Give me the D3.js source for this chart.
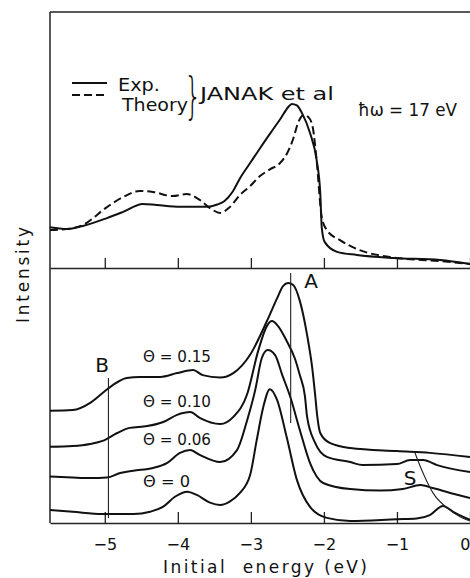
<!DOCTYPE html>
<html><head><meta charset="utf-8">
<script src="https://cdn.jsdelivr.net/npm/d3@7"></script>
<style>
html,body{margin:0;padding:0;background:#fff;}
text{font-family:"DejaVu Sans",sans-serif;fill:#111;}
</style></head>
<body><svg id="c" width="470" height="578"></svg>
<script>
// ---- data (energy in eV, intensity in arbitrary units) ----
const xTicks = [-5, -4, -3, -2, -1, 0];

const topExp = [[-5.75,1.59],[-5.52,1.52],[-5.30,1.64],[-4.97,1.95],[-4.75,2.19],[-4.48,2.50],[-4.29,2.46],
  [-3.97,2.39],[-3.60,2.39],[-3.46,2.48],[-3.36,2.62],[-3.25,2.98],[-3.15,3.50],[-3.01,4.10],[-2.87,4.70],
  [-2.73,5.28],[-2.59,5.85],[-2.49,6.28],[-2.44,6.41],[-2.37,6.35],[-2.30,6.05],[-2.19,5.27],[-2.10,4.22],
  [-2.05,2.93],[-2.03,1.60],[-1.99,1.02],[-1.82,0.63],[-1.55,0.51],[-1.05,0.39],[-0.41,0.31],[0,0.16]];

const topTheory = [[-5.75,1.48],[-5.52,1.52],[-5.30,1.68],[-4.97,2.38],[-4.75,2.77],[-4.52,3.01],[-4.34,2.97],
  [-4.07,2.81],[-3.88,2.89],[-3.70,2.66],[-3.56,2.34],[-3.42,2.15],[-3.30,2.35],[-3.15,2.85],[-3.01,3.20],
  [-2.88,3.58],[-2.74,3.85],[-2.60,4.10],[-2.50,4.50],[-2.42,5.05],[-2.35,5.70],[-2.27,5.98],[-2.20,5.85],
  [-2.15,5.45],[-2.10,4.22],[-2.03,1.99],[-1.96,1.48],[-1.78,1.09],[-1.51,0.70],[-1.10,0.43],[-0.41,0.27],[0,0.16]];

const coverages = ["0.15", "0.10", "0.06", "0"];

const cov015 = [[-5.75,4.40],[-5.44,4.43],[-5.20,4.71],[-5.03,5.10],[-4.89,5.41],[-4.70,5.69],[-4.52,5.73],
  [-4.24,5.73],[-4.01,5.88],[-3.79,6.00],[-3.66,5.80],[-3.42,5.71],[-3.24,5.88],[-3.01,6.60],[-2.78,7.92],
  [-2.64,8.82],[-2.56,9.29],[-2.49,9.41],[-2.42,9.33],[-2.33,8.71],[-2.23,7.37],[-2.16,6.08],[-2.12,5.02],
  [-2.09,4.16],[-2.05,3.53],[-1.92,3.14],[-1.64,2.94],[-1.00,2.82],[-0.55,2.75],[0,2.59]];

const cov010 = [[-5.75,2.99],[-5.44,3.02],[-5.20,3.10],[-5.03,3.22],[-4.83,3.53],[-4.66,3.73],[-4.42,3.80],
  [-4.20,3.96],[-4.01,4.24],[-3.83,4.35],[-3.70,4.12],[-3.42,3.88],[-3.24,4.16],[-3.05,5.06],[-2.90,6.75],
  [-2.78,7.73],[-2.71,7.92],[-2.63,7.73],[-2.51,7.14],[-2.40,6.47],[-2.33,5.80],[-2.26,4.98],[-2.23,4.16],
  [-2.12,3.14],[-1.96,2.59],[-1.64,2.39],[-1.47,2.27],[-1.00,2.31],[-0.82,2.47],[-0.64,2.47],[-0.45,2.27],[0,2.00]];

const cov006 = [[-5.75,1.82],[-5.44,1.78],[-5.20,1.76],[-4.97,1.78],[-4.79,1.96],[-4.61,2.05],[-4.34,2.16],
  [-4.15,2.35],[-3.97,2.75],[-3.83,2.86],[-3.70,2.67],[-3.42,2.39],[-3.19,2.86],[-3.05,4.04],[-2.94,5.22],
  [-2.85,6.47],[-2.77,6.78],[-2.67,6.59],[-2.57,5.80],[-2.46,4.94],[-2.33,3.65],[-2.19,2.35],[-2.01,1.57],
  [-1.64,1.33],[-1.23,1.27],[-0.92,1.33],[-0.68,1.49],[-0.51,1.37],[-0.27,1.18],[0,0.98]];

const cov000 = [[-5.75,0.51],[-5.44,0.44],[-5.03,0.35],[-4.61,0.35],[-4.38,0.44],[-4.20,0.64],[-4.04,1.03],
  [-3.87,1.23],[-3.74,1.10],[-3.56,0.80],[-3.42,0.71],[-3.29,0.84],[-3.15,1.18],[-3.01,1.88],[-2.92,3.25],
  [-2.83,4.55],[-2.74,5.25],[-2.64,4.82],[-2.51,3.37],[-2.37,1.69],[-2.19,0.63],[-1.96,0.20],[-1.64,0.08],
  [-1.00,0.15],[-0.73,0.18],[-0.55,0.31],[-0.37,0.67],[-0.23,0.44],[-0.10,0.25],[0,0.12]];

const sLine = [[-0.753,2.75],[-0.643,1.96],[-0.507,1.18],[-0.315,0.59],[-0.137,0.24],[0,0.08]];
const markA = {E:-2.455, from:3.92, to:9.80};
const markB = {E:-4.95, from:0.20, to:5.69};

// ---- layout ----
const svg = d3.select("#c");
const L = 50, R = 470, T = 12, MID = 268, B = 523;
const x = d3.scaleLinear().domain([-5.75, 0]).range([L, R]);
const yTop = d3.scaleLinear().domain([0, 10]).range([MID, T]);
const yBot = d3.scaleLinear().domain([0, 10]).range([B, MID]);

// frame
svg.append("line").attr("x1",L).attr("x2",R).attr("y1",T).attr("y2",T).attr("stroke","#222").attr("stroke-width",1.5);
svg.append("line").attr("x1",L).attr("x2",L).attr("y1",T).attr("y2",B).attr("stroke","#222").attr("stroke-width",1.5);

// top-panel divider axis (ticks up, no labels)
const gMid = svg.append("g").attr("transform",`translate(0,${MID})`)
  .call(d3.axisBottom(x).tickValues(xTicks).tickSizeInner(-10).tickSizeOuter(0).tickFormat(""));
// bottom axis
const gBot = svg.append("g").attr("transform",`translate(0,${B})`)
  .call(d3.axisBottom(x).tickValues(xTicks).tickSizeInner(-11).tickSizeOuter(0).tickPadding(16)
    .tickFormat(d => d === 0 ? "0" : "\u2212" + Math.abs(d)));
[gMid, gBot].forEach(g => {
  g.select(".domain").attr("stroke","#222").attr("stroke-width",1.5);
  g.selectAll(".tick line").attr("stroke","#222").attr("stroke-width",1.3);
  g.selectAll(".tick text").attr("font-size",16).attr("font-family","DejaVu Sans").attr("fill","#111");
});
gBot.selectAll(".tick text").filter(d => d === 0).attr("text-anchor","end").attr("x",0);

const lineTop = d3.line().x(d => x(d[0])).y(d => yTop(d[1])).curve(d3.curveMonotoneX);
const lineBot = d3.line().x(d => x(d[0])).y(d => yBot(d[1])).curve(d3.curveMonotoneX);

svg.append("path").attr("d", lineTop(topExp)).attr("fill","none").attr("stroke","#111").attr("stroke-width",2);
svg.append("path").attr("d", lineTop(topTheory)).attr("fill","none").attr("stroke","#111").attr("stroke-width",2)
  .attr("stroke-dasharray","8,4");

[cov015, cov010, cov006, cov000].forEach(s => {
  svg.append("path").attr("d", lineBot(s)).attr("fill","none").attr("stroke","#111").attr("stroke-width",2);
});

// marker lines
svg.append("line").attr("x1",x(markA.E)).attr("x2",x(markA.E)).attr("y1",yBot(markA.from)).attr("y2",yBot(markA.to))
  .attr("stroke","#222").attr("stroke-width",1.1);
svg.append("line").attr("x1",x(markB.E)).attr("x2",x(markB.E)).attr("y1",yBot(markB.from)).attr("y2",yBot(markB.to))
  .attr("stroke","#222").attr("stroke-width",1.1);
svg.append("path").attr("d", d3.line().x(d=>x(d[0])).y(d=>yBot(d[1])).curve(d3.curveMonotoneX)(sLine))
  .attr("fill","none").attr("stroke","#222").attr("stroke-width",1.1);

// texts
function txt(s, px, py, size, opts={}) {
  const t = svg.append("text").attr("x",px).attr("y",py).attr("font-size",size).text(s);
  if (opts.anchor) t.attr("text-anchor",opts.anchor);
  if (opts.len) t.attr("textLength",opts.len).attr("lengthAdjust","spacingAndGlyphs");
  return t;
}
txt("A", 311, 288, 20, {anchor:"middle"});
txt("B", 102, 372, 20, {anchor:"middle"});
txt("S", 410, 485, 20, {anchor:"middle"});

const covBase = [362, 407, 445, 487];
coverages.forEach((c, i) => {
  txt("\u0398 = " + c, 143, covBase[i], 16, {len: c === "0" ? 47 : 68});
});

// legend
svg.append("line").attr("x1",72).attr("x2",107).attr("y1",83).attr("y2",83).attr("stroke","#111").attr("stroke-width",2);
svg.append("line").attr("x1",72).attr("x2",107).attr("y1",95).attr("y2",95).attr("stroke","#111").attr("stroke-width",2)
  .attr("stroke-dasharray","8,4");
txt("Exp.", 118, 91, 18, {len:42});
txt("Theory", 122, 111, 18, {len:66});
txt("}", 193, 113, 50, {anchor:"middle"}).attr("font-weight",200)
  .attr("transform","translate(193,0) scale(0.55,1) translate(-193,0)");
txt("JANAK et al", 200, 100, 18, {len:134});
txt("\u0127\u03c9 = 17 eV", 358, 116, 18, {len:99});

// axis titles
txt("Initial  energy (eV)", 265, 573, 17, {anchor:"middle"}).attr("textLength",204).attr("lengthAdjust","spacing")
  .style("white-space","pre");
svg.append("text").attr("transform","translate(29,275) rotate(-90)").attr("text-anchor","middle")
  .attr("font-size",17).attr("textLength",96).attr("lengthAdjust","spacing").text("Intensity");
</script></body></html>
